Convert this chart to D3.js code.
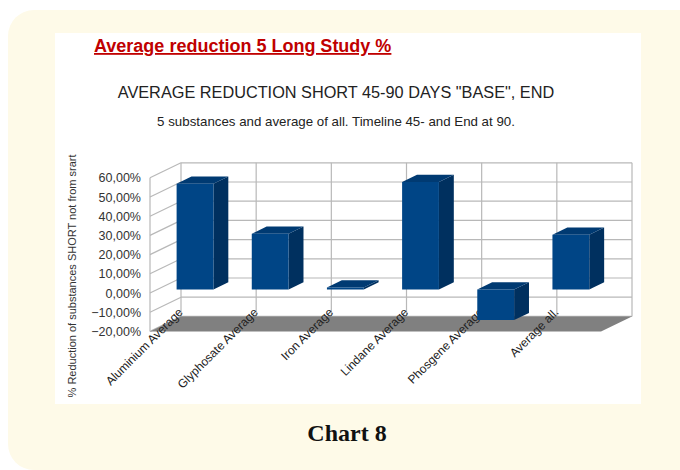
<!DOCTYPE html>
<html>
<head>
<meta charset="utf-8">
<script src="https://cdn.jsdelivr.net/npm/d3@7"></script>
<style>
  html, body { margin: 0; padding: 0; background: #fff; }
  svg { display: block; font-family: "Liberation Sans", Arial, sans-serif; }
</style>
</head>
<body>
<svg id="chart" width="680" height="470"></svg>
<script>
// data
const categories = ["Aluminium Average", "Glyphosate Average", "Iron Average", "Lindane Average", "Phosgene Average", "Average all."];
const values = [55, 29, 1, 56, -16, 28.5];
const yTicks = [-20, -10, 0, 10, 20, 30, 40, 50, 60];

const svg = d3.select("#chart");

// page frame
svg.append("rect").attr("x", 8).attr("y", 10).attr("width", 700).attr("height", 460)
  .attr("rx", 26).attr("fill", "#fefae8");
svg.append("rect").attr("x", 55).attr("y", 33).attr("width", 586).attr("height", 371)
  .attr("fill", "#fff");

svg.append("text").attr("x", 94).attr("y", 52)
  .attr("font-size", 18).attr("font-weight", "bold").attr("fill", "#c00000")
  .attr("text-decoration", "underline")
  .text("Average reduction 5 Long Study %");

svg.append("text").attr("x", 336).attr("y", 97.5).attr("text-anchor", "middle")
  .attr("font-size", 16.3).attr("fill", "#222")
  .text('AVERAGE REDUCTION SHORT 45-90 DAYS "BASE", END');

svg.append("text").attr("x", 336).attr("y", 125.5).attr("text-anchor", "middle")
  .attr("font-size", 13.3).attr("fill", "#222")
  .text("5 substances and average of all. Timeline 45- and End at 90.");

svg.append("text").attr("x", 347).attr("y", 441).attr("text-anchor", "middle")
  .attr("font-family", "'Liberation Serif', 'DejaVu Serif', serif")
  .attr("font-size", 24).attr("font-weight", "bold").attr("fill", "#111")
  .text("Chart 8");

// 3d-ish chart: front plane scales plus an oblique depth offset
const x = d3.scaleBand().domain(categories).range([150, 601]);
const y = d3.scaleLinear().domain([-20, 60]).range([331.4, 177.8]);
const DX = 31, DY = -15;
const pt = (px, py, d) => [px + DX * d, py + DY * d];

const g = svg.append("g");
const grid = "#b8b8b8";

// back wall and left wall grid
yTicks.forEach(t => {
  const a = pt(150, y(t), 1), b = pt(601, y(t), 1), c = pt(150, y(t), 0);
  g.append("line").attr("x1", a[0]).attr("y1", a[1]).attr("x2", b[0]).attr("y2", b[1])
    .attr("stroke", grid).attr("stroke-width", 1.2);
  g.append("line").attr("x1", c[0]).attr("y1", c[1]).attr("x2", a[0]).attr("y2", a[1])
    .attr("stroke", grid).attr("stroke-width", 1.2);
});
const edges = [150].concat(categories.map(c => x(c) + x.bandwidth()));
edges.forEach(ex => {
  const a = pt(ex, y(60), 1), b = pt(ex, y(-20), 1);
  g.append("line").attr("x1", a[0]).attr("y1", a[1]).attr("x2", b[0]).attr("y2", b[1])
    .attr("stroke", grid).attr("stroke-width", 1.2);
});
g.append("line").attr("x1", 150).attr("y1", y(60)).attr("x2", 150).attr("y2", y(-20))
  .attr("stroke", grid).attr("stroke-width", 1.2);

// floor
const floor = [pt(150, y(-20), 0), pt(601, y(-20), 0), pt(601, y(-20), 1), pt(150, y(-20), 1)];
g.append("polygon").attr("points", floor.map(p => p.join(",")).join(" ")).attr("fill", "#808080");

// y tick labels
const fmt = d3.formatLocale({ decimal: ",", thousands: ".", grouping: [3], currency: ["", ""] }).format(".2%");
g.selectAll(".ylab").data(yTicks).join("text")
  .attr("x", 141).attr("y", d => y(d) + 4.5).attr("text-anchor", "end")
  .attr("font-size", 12.5).attr("fill", "#333")
  .text(d => fmt(d / 100));

svg.append("text")
  .attr("transform", "translate(76,276) rotate(-90)")
  .attr("text-anchor", "middle").attr("font-size", 11).attr("fill", "#333")
  .text("% Reduction of substances SHORT not from srart");

// category labels
g.selectAll(".xlab").data(categories).join("text")
  .attr("transform", d => `translate(${x(d) + x.bandwidth() / 2 - 4},313) rotate(-45)`)
  .attr("text-anchor", "end").attr("font-size", 12).attr("fill", "#222")
  .text(d => d);

// bars
const d0 = 0.24, d1 = 0.72;
const bars = g.selectAll(".bar").data(categories.map((c, i) => ({ c, v: values[i] }))).join("g");
bars.each(function (d) {
  const sel = d3.select(this);
  const xl = x(d.c) + x.bandwidth() * 0.255, xr = x(d.c) + x.bandwidth() * 0.745;
  const yt = y(Math.max(d.v, 0)), yb = y(Math.min(d.v, 0));
  const poly = pts => pts.map(p => p.join(",")).join(" ");
  // side
  sel.append("polygon").attr("fill", "#00305f")
    .attr("points", poly([pt(xr, yt, d0), pt(xr, yt, d1), pt(xr, yb, d1), pt(xr, yb, d0)]));
  // top
  sel.append("polygon").attr("fill", "#003a72")
    .attr("points", poly([pt(xl, yt, d0), pt(xl, yt, d1), pt(xr, yt, d1), pt(xr, yt, d0)]));
  // front
  sel.append("polygon").attr("fill", "#004586")
    .attr("points", poly([pt(xl, yt, d0), pt(xr, yt, d0), pt(xr, yb, d0), pt(xl, yb, d0)]));
});
</script>
</body>
</html>
